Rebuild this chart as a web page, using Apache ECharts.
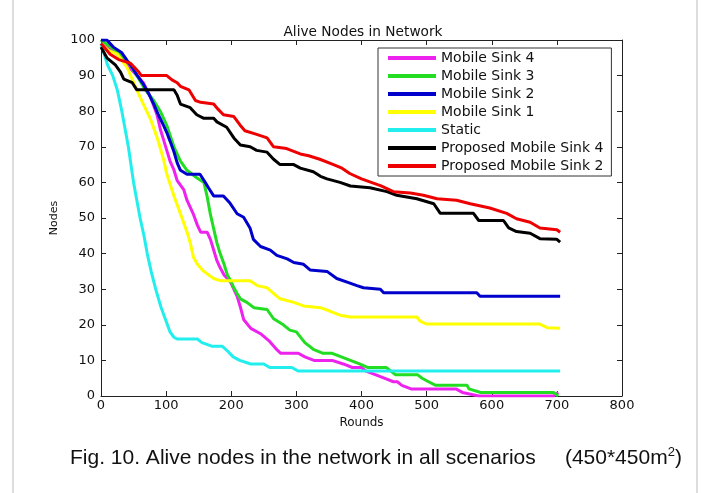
<!DOCTYPE html>
<html><head><meta charset="utf-8">
<script src="https://cdn.jsdelivr.net/npm/echarts@6/dist/echarts.min.js"></script>
<style>html,body{margin:0;padding:0;background:#fff}#c{width:704px;height:493px}</style>
</head><body><div id="c"></div>
<script>
const xTicks = [0, 100, 200, 300, 400, 500, 600, 700, 800];
const yTicks = [0, 10, 20, 30, 40, 50, 60, 70, 80, 90, 100];
const seriesNames = ['Mobile Sink 4', 'Mobile Sink 3', 'Mobile Sink 2', 'Mobile Sink 1', 'Static', 'Proposed Mobile Sink 4', 'Proposed Mobile Sink 2'];

const sink4 = [[0,99],[10,98],[25,96],[40,93],[55,90],[65,88],[76,84],[86,79],[91,75],[96,72],[101,69],[106,66],[112,63.5],[117,60.5],[127,58],[132,55],[142,51],[148,48],[153,46],[163,46],[168,44],[173,41],[178,38],[183,36],[189,34],[199,32],[209,28],[214,25],[219,21.5],[230,19],[245,17.5],[258,15.5],[270,13],[276,12],[303,12],[313,11],[327,10],[355,10],[372,9],[386,8],[400,8],[407,7],[421,6],[435,5],[449,4],[455,4],[462,3],[476,2],[545,2],[555,1],[580,0],[695,0],[702,1]];
const sink3 = [[0,100],[15,98],[30,96],[45,93],[55,90],[68,86],[81,83],[91,80],[101,76],[112,70],[122,66],[132,63.4],[147,61.3],[158,60],[163,56],[168,51],[173,47],[178,43],[183,40],[189,37],[194,34],[199,32.4],[204,30.4],[209,28.8],[214,27.3],[224,26.3],[235,24.8],[255,24.3],[265,21.7],[280,20],[290,18.5],[300,18],[313,15],[327,13],[341,12],[355,12],[369,11],[383,10],[397,9],[410,8],[438,8],[452,6],[486,6],[493,5],[503,4],[514,3],[562,3],[565,2],[583,1],[695,1],[702,0]];
const sink2 = [[0,100],[9,100],[19,98],[32,96.4],[40,94.3],[48,92.3],[55,90.2],[65,87.6],[73,85],[81,82],[88,79],[96,76],[101,74],[106,71.6],[112,68.6],[117,65.5],[122,63.4],[132,62.3],[152,62.3],[160,60],[165,58.5],[173,56.2],[188,56.2],[198,54.2],[209,51.2],[219,50.2],[229,47.1],[234,44],[245,42],[260,41],[270,39.5],[286,38.5],[296,37.5],[311,37],[321,35.4],[347,35],[362,33],[378,32],[393,31],[403,30.4],[429,30],[434,29],[577,29],[582,28],[705,28]];
const sink1 = [[0,99],[12,97],[25,96],[40,92.3],[55,86],[65,82],[76,77.8],[86,72.7],[96,66.5],[101,62.4],[112,56.2],[122,51.2],[132,46.1],[137,43],[142,39],[148,37],[158,35],[173,33],[183,32.4],[229,32.4],[240,31],[255,30.4],[265,28.8],[275,27.3],[296,26.3],[311,25.3],[337,24.8],[352,23.8],[367,22.7],[383,22.2],[485,22.2],[490,21],[500,20.2],[674,20.2],[685,19.2],[705,19]];
const staticSink = [[0,99],[5,96],[10,93],[18,90],[25,86],[32,80],[37,75],[42,70],[46,65],[50,60],[55,55],[60,50],[66,45],[71,40],[77,35],[84,30],[92,25],[100,21],[106,18],[112,16.5],[117,16],[148,16],[155,15],[170,14],[186,14],[195,12.5],[203,11],[213,10],[230,9],[250,9],[259,8],[293,8],[303,7],[705,7]];
const proposed4 = [[0,98],[9,95],[22,93],[30,91],[35,89],[48,88],[55,86],[112,86],[117,84.5],[122,82],[137,81],[147,79],[158,78],[173,78],[178,77],[193,75.5],[204,72.5],[214,70.5],[229,70],[239,69],[255,68.5],[265,66.5],[275,65],[296,65],[306,64],[326,63],[337,61.7],[347,61],[367,60],[383,59],[413,58.5],[439,57.4],[454,56.4],[485,55.4],[511,54],[521,51.3],[572,51.3],[580,49.3],[618,49.3],[626,47.2],[638,46.2],[659,45.7],[674,44.2],[700,44],[705,43.2]];
const proposed2 = [[0,99],[14,96],[27,94.5],[45,93.5],[58,91],[62,90],[101,90],[109,88.8],[117,88],[122,87],[135,86],[145,83],[153,82.5],[173,82],[180,80.5],[188,79],[204,78.5],[214,76],[221,74.5],[239,73.5],[255,72.5],[265,70],[285,69.5],[306,68],[319,67.5],[336,66.5],[357,65],[370,64],[382,62.5],[400,61],[415,60],[430,59],[449,57.4],[475,57],[495,56.4],[516,55.4],[546,55],[567,54],[597,52.8],[623,51.3],[638,49.8],[659,48.8],[674,47.2],[700,46.7],[705,46]];

const seriesData = [sink4, sink3, sink2, sink1, staticSink, proposed4, proposed2];
const colors = ['#ee22ee', '#22dd22', '#0000cc', '#ffff00', '#22eeee', '#000000', '#ee0000'];

const chart = echarts.init(document.getElementById('c'), null, {renderer: 'canvas'});
const FONT = 'DejaVu Sans';
const axisCommon = {
  type: 'value', min: 0,
  axisLine: {show: true, onZero: false, lineStyle: {color: '#222', width: 1}},
  axisTick: {show: true, inside: true, length: 5, lineStyle: {color: '#222'}},
  splitLine: {show: false}
};
chart.setOption({
  animation: false,
  backgroundColor: '#fff',
  title: {text: 'Alive Nodes in Network', left: 358, top: 20, textAlign: 'center',
    textStyle: {fontFamily: FONT, fontSize: 13.7, fontWeight: 'normal', color: '#111'}},
  grid: {left: 101, top: 40, width: 521, height: 356},
  legend: {
    orient: 'vertical', left: 378, top: 48,
    data: seriesNames,
    icon: 'rect', itemWidth: 48, itemHeight: 4, itemGap: 4,
    padding: [3, 8, 3, 10],
    backgroundColor: '#fff', borderColor: '#333', borderWidth: 1,
    textStyle: {fontFamily: FONT, fontSize: 14, lineHeight: 14, color: '#111'}
  },
  xAxis: [
    Object.assign({}, axisCommon, {position: 'bottom', max: 800, interval: 100,
      name: 'Rounds', nameLocation: 'middle', nameGap: 16,
      nameTextStyle: {fontFamily: FONT, fontSize: 12, color: '#111'},
      axisLabel: {fontFamily: FONT, fontSize: 13, color: '#111', margin: 3,
        formatter: v => xTicks.includes(v) ? String(v) : ''}}),
    Object.assign({}, axisCommon, {position: 'top', max: 800, interval: 100, axisLabel: {show: false}})
  ],
  yAxis: [
    Object.assign({}, axisCommon, {position: 'left', max: 100, interval: 10,
      name: 'Nodes', nameLocation: 'middle', nameGap: 27,
      nameTextStyle: {fontFamily: FONT, fontSize: 11, color: '#111'},
      axisLabel: {fontFamily: FONT, fontSize: 13, color: '#111', margin: 6,
        formatter: v => yTicks.includes(v) ? String(v) : ''}}),
    Object.assign({}, axisCommon, {position: 'right', max: 100, interval: 10, axisLabel: {show: false}})
  ],
  series: seriesNames.map((n, i) => ({
    name: n, type: 'line', data: seriesData[i], xAxisIndex: 0, yAxisIndex: 0,
    showSymbol: false, symbol: 'none', color: colors[i],
    lineStyle: {width: 3, color: colors[i]}, z: 2 + i
  })),
  graphic: [
    {type: 'line', shape: {x1: 13, y1: 0, x2: 13, y2: 493}, style: {stroke: '#bbb', lineWidth: 1}},
    {type: 'line', shape: {x1: 697, y1: 0, x2: 697, y2: 493}, style: {stroke: '#bbb', lineWidth: 1}},
    {type: 'text', left: 70, top: 446,
      style: {text: 'Fig. 10. Alive nodes in the network in all scenarios     (450*450m{sup|2})',
        rich: {sup: {fontSize: 13, verticalAlign: 'top', padding: [0,0,11,0], fontFamily: 'Liberation Sans', fill: '#111'}},
        font: '21px "Liberation Sans"', fill: '#111'}}
  ]
});
</script></body></html>
